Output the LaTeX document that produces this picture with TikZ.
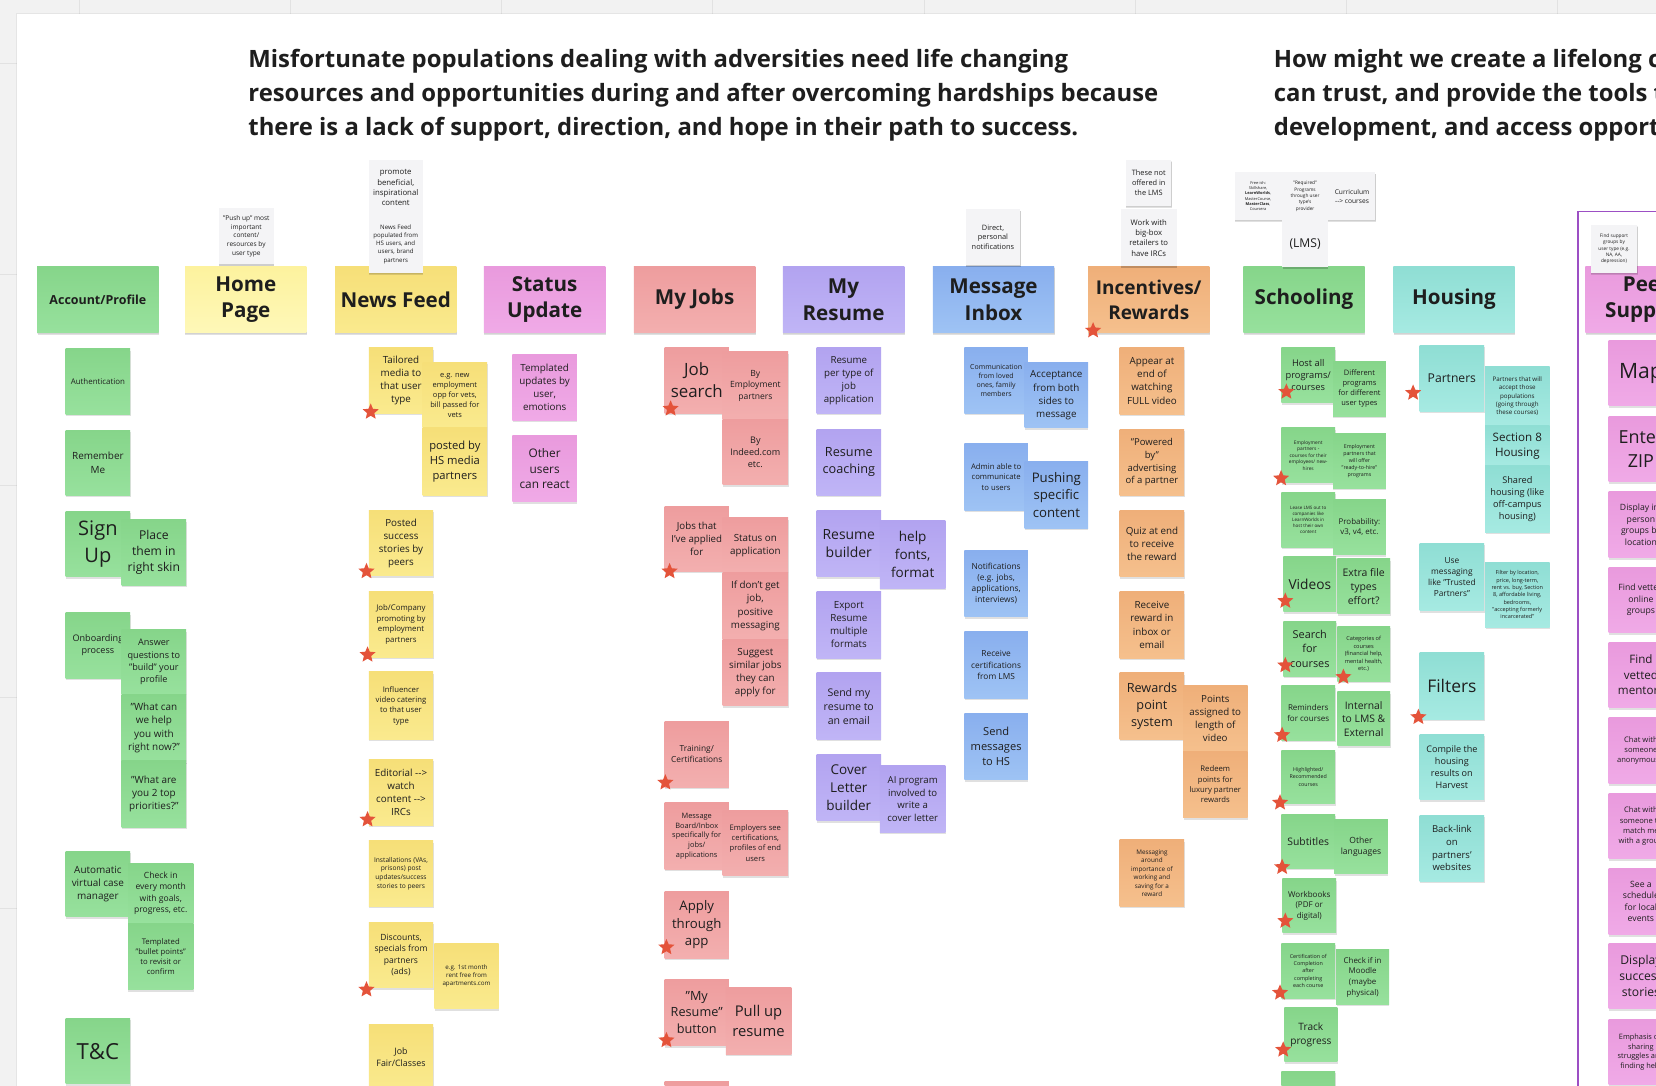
\documentclass[tikz,border=0pt]{standalone}
\usepackage{fontspec}
\setmainfont{Open Sans}
\usetikzlibrary{shapes.geometric,shadows}
\definecolor{ink}{HTML}{1E1E1E}
\definecolor{grnT}{HTML}{86D58A}\definecolor{grnB}{HTML}{97E19D}
\definecolor{yelT}{HTML}{F6DF78}\definecolor{yelB}{HTML}{FAEA8E}
\definecolor{hpyT}{HTML}{FDF29E}\definecolor{hpyB}{HTML}{FEF8B8}
\definecolor{pnkT}{HTML}{E99ADD}\definecolor{pnkB}{HTML}{F0AAE7}
\definecolor{salT}{HTML}{EE9D9E}\definecolor{salB}{HTML}{F3AFAF}
\definecolor{lavT}{HTML}{B2A3F0}\definecolor{lavB}{HTML}{C0B5F6}
\definecolor{bluT}{HTML}{89AFEE}\definecolor{bluB}{HTML}{9EC3F4}
\definecolor{orgT}{HTML}{EFAF79}\definecolor{orgB}{HTML}{F5C08D}
\definecolor{teaT}{HTML}{8FDED4}\definecolor{teaB}{HTML}{A6EAE2}
\definecolor{grayN}{HTML}{F4F4F6}
\definecolor{starc}{HTML}{E4533A}
\definecolor{bgc}{HTML}{F2F2F2}
\definecolor{gridc}{HTML}{E2E2E2}
\definecolor{purp}{HTML}{9C4FC4}
\tikzset{
  base/.style={draw=none, inner sep=1.5pt, align=center, anchor=north west, text=ink,
    font=\fontsize{8}{10.6}\selectfont,
    drop shadow={shadow xshift=0.4pt, shadow yshift=-1.8pt, opacity=0.12, fill=black}},
  nt/.style={base, top color=#1T, bottom color=#1B, minimum width=61pt, minimum height=62pt},
  sm/.style={base, top color=#1T, bottom color=#1B, minimum width=51pt, minimum height=52pt},
  gnote/.style={base, fill=grayN, minimum width=52pt, minimum height=53pt,
    drop shadow={shadow xshift=0.3pt, shadow yshift=-1.2pt, opacity=0.08, fill=black}},
  hdr/.style={base, top color=#1T, bottom color=#1B, minimum width=115pt, minimum height=63pt,
    font=\fontsize{19.5}{25}\selectfont\bfseries,
    drop shadow={shadow xshift=0.3pt, shadow yshift=-1pt, opacity=0.06, fill=black}},
  fs/.style={font=\fontsize{#1}{\fpeval{1.33*#1}}\selectfont},
  wh/.style 2 args={minimum width=#1pt, minimum height=#2pt},
  starr/.style={star, star points=5, star point ratio=2.2, fill=starc, draw=none,
    minimum size=16pt, inner sep=0pt},
  ttl/.style={anchor=base west, inner sep=0pt, text=ink, font=\fontsize{22.6}{28}\selectfont\bfseries},
}
\begin{document}
\begin{tikzpicture}[x=1pt,y=-1pt]
\useasboundingbox (0,0) rectangle (1568,1028);
\clip (0,0) rectangle (1568,1028);
% canvas
\fill[bgc] (0,0) rectangle (1568,1028);
\foreach \gx in {75,275,...,1475} \draw[gridc, line width=0.8pt] (\gx,0) -- (\gx,1028);
\foreach \gy in {60,260,...,1060} \draw[gridc, line width=0.8pt] (0,\gy) -- (1568,\gy);
\fill[black, opacity=0.05] (15,12) rectangle (1600,1060);
\fill[white] (16,13) rectangle (1600,1060);
% frame of peer support
\draw[purp, line width=1.3pt] (1494,1060) -- (1494,200) -- (1600,200);

% titles
\node[ttl] (t1) at (235,64) {Misfortunate populations dealing with adversities need life changing};
\node[ttl] (t2) at (235,96) {resources and opportunities during and after overcoming hardships because};
\node[ttl] (t3) at (235,128) {there is a lack of support, direction, and hope in their path to success.};
\node[ttl] (t4) at (1206,64) {How might we create a lifelong c};
\node[ttl] (t5) at (1206,96) {can trust, and provide the tools t};
\node[ttl] (t6) at (1206,128) {development, and access opport};

% headers
\node[hdr=grn, font=\fontsize{11.8}{15}\selectfont\bfseries] (hAcc) at (35,252) {Account/Profile};
\node[hdr=hpy] (hHome) at (175,252) {Home\\Page};
\node[hdr=yel] (hNews) at (317,252) {News Feed};
\node[hdr=pnk] (hStat) at (458,252) {Status\\Update};
\node[hdr=sal] (hJobs) at (600,252) {My Jobs};
\node[hdr=lav] (hRes) at (741,252) {My\\Resume};
\node[hdr=blu] (hMsg) at (883,252) {Message\\Inbox};
\node[hdr=org, font=\fontsize{18}{24}\selectfont\bfseries] (hInc) at (1030,252) {Incentives/\\Rewards};
\node[hdr=grn] (hSch) at (1177,252) {Schooling};
\node[hdr=tea] (hHou) at (1319,252) {Housing};
\node[hdr=pnk] (hPeer) at (1501,252) {Peer\\Support};

% gray notes above headers
\node[gnote, fs=6.2] (g1) at (207,197) {"Push up" most\\important\\content/\\resources by\\user type};
\node[gnote, wh={51}{53}, fs=7.4] (g2) at (349,151) {promote\\beneficial,\\inspirational\\content};
\node[gnote, wh={51}{54}, fs=5.8] (g3) at (349,204) {News Feed\\populated from\\HS users, and\\users, brand\\partners};
\node[gnote, wh={52}{53}, fs=7] (g4) at (914,198) {Direct,\\personal\\notifications};
\node[gnote, wh={43}{44}, fs=7] (g5) at (1066,151) {These not\\offered in\\the LMS};
\node[gnote, wh={53}{54}, fs=7.3] (g6) at (1061,198) {Work with\\big-box\\retailers to\\have IRCs};
\node[gnote, wh={44}{45}, fs=3.7] (g7) at (1169,163) {Free-ish:\\Skillshare,\\\textbf{LearnWorlds},\\MasterCourse,\\\textbf{MasterClass},\\Coursera};
\node[gnote, wh={45}{45}, fs=4.5] (g8) at (1213,163) {"Required"\\Programs\\through user\\type's\\provider};
\node[gnote, wh={44}{45}, fs=6.3] (g9) at (1258,163) {Curriculum\\-{}-> courses};
\node[gnote, wh={43}{45}, fs=11.5] (g10) at (1214,208) {(LMS)};
\node[gnote, wh={44}{45}, fs=4.5] (g11) at (1506,213) {Find support\\groups by\\user type (e.g.\\NA, AA,\\depression)};

% Account / Profile
\node[nt=grn, fs=7.5] (a1) at (62,330) {Authentication};
\node[nt=grn, fs=9.4] (a2) at (62,407) {Remember\\Me};
\node[nt=grn, fs=19] (a3) at (62,484) {Sign\\Up};
\node[nt=grn, fs=11.5] (a4) at (115,492) {Place\\them in\\right skin};
\node[nt=grn, fs=8.6] (a5) at (62,580) {Onboarding\\process};
\node[nt=grn, wh={61}{61}, fs=8.6] (a6) at (115,596) {Answer\\questions to\\"build" your\\profile};
\node[nt=grn, wh={61}{64}, fs=9.4] (a7) at (115,657) {"What can\\we help\\you with\\right now?"};
\node[nt=grn, wh={61}{63}, fs=9.4] (a8) at (115,720) {"What are\\you 2 top\\priorities?"};
\node[nt=grn, fs=9.4] (a9) at (62,806) {Automatic\\virtual case\\manager};
\node[nt=grn, wh={62}{57}, fs=8.1] (a10) at (121,817) {Check in\\every month\\with goals,\\progress, etc.};
\node[nt=grn, wh={62}{63}, fs=7.3] (a11) at (121,874) {Templated\\"bullet points"\\to revisit or\\confirm};
\node[nt=grn, fs=21] (a12) at (62,964) {T\&C};

% News Feed
\node[nt=yel, fs=9.3] (n1) at (349,329) {Tailored\\media to\\that user\\type};
\node[nt=yel, fs=7.1] (n2) at (400,343) {e.g. new\\employment\\opp for vets,\\bill passed for\\vets};
\node[nt=yel, wh={61}{64}, fs=10.6] (n3) at (400,405) {posted by\\HS media\\partners};
\node[nt=yel, fs=9.3] (n4) at (349,483) {Posted\\success\\stories by\\peers};
\node[nt=yel, fs=7.4] (n5) at (349,560) {Job/Company\\promoting by\\employment\\partners};
\node[nt=yel, wh={61}{64}, fs=7.3] (n6) at (349,636) {Influencer\\video catering\\to that user\\type};
\node[nt=yel, fs=9.3] (n7) at (349,719) {Editorial -{}->\\watch\\content -{}->\\IRCs};
\node[nt=yel, fs=6.3] (n8) at (349,796) {Installations (VAs,\\prisons) post\\updates/success\\stories to peers};
\node[nt=yel, fs=8.1] (n9) at (349,873) {Discounts,\\specials from\\partners\\(ads)};
\node[nt=yel, fs=5.9] (n10) at (411,893) {e.g. 1st month\\rent free from\\apartments.com};
\node[nt=yel, fs=8.4] (n11) at (349,970) {Job\\Fair/Classes};

% Status Update
\node[nt=pnk, wh={61}{63}, fs=9.3] (u1) at (485,335) {Templated\\updates by\\user,\\emotions};
\node[nt=pnk, wh={61}{63}, fs=11.2] (u2) at (485,412) {Other\\users\\can react};

% My Jobs
\node[nt=sal, fs=16] (j1) at (629,329) {Job\\search};
\node[nt=sal, wh={62}{64}, fs=8.1] (j2) at (684,333) {By\\Employment\\partners};
\node[nt=sal, wh={62}{62}, fs=8.6] (j3) at (684,397) {By\\Indeed.com\\etc.};
\node[nt=sal, fs=9.2] (j4) at (629,479) {Jobs that\\I've applied\\for};
\node[nt=sal, wh={62}{52}, fs=9.3] (j5) at (684,490) {Status on\\application};
\node[nt=sal, wh={62}{63}, fs=9.3] (j6) at (684,542) {If don't get\\job,\\positive\\messaging};
\node[nt=sal, wh={62}{63}, fs=9.3] (j7) at (684,605) {Suggest\\similar jobs\\they can\\apply for};
\node[nt=sal, fs=7.9] (j8) at (629,683) {Training/\\Certifications};
\node[nt=sal, wh={61}{63}, fs=7] (j9) at (629,760) {Message\\Board/Inbox\\specifically for\\jobs/\\applications};
\node[nt=sal, wh={62}{62}, fs=7.2] (j10) at (684,767) {Employers see\\certifications,\\profiles of end\\users};
\node[nt=sal, wh={61}{63}, fs=12.5] (j11) at (629,844) {Apply\\through\\app};
\node[nt=sal, wh={61}{63}, fs=12] (j12) at (629,927) {"My\\Resume"\\button};
\node[nt=sal, wh={62}{63}, fs=14] (j13) at (687,935) {Pull up\\resume};
\node[nt=sal] (j14) at (629,1024) {};

% My Resume
\node[nt=lav, fs=9.2] (r1) at (773,329) {Resume\\per type of\\job\\application};
\node[nt=lav, wh={61}{63}, fs=12] (r2) at (773,406) {Resume\\coaching};
\node[nt=lav, wh={61}{63}, fs=13.2] (r3) at (773,483) {Resume\\builder};
\node[nt=lav, wh={62}{64}, fs=12.8] (r4) at (833,493) {help\\fonts,\\format};
\node[nt=lav, wh={61}{63}, fs=9.3] (r5) at (773,560) {Export\\Resume\\multiple\\formats};
\node[nt=lav, wh={61}{63}, fs=10] (r6) at (773,637) {Send my\\resume to\\an email};
\node[nt=lav, wh={61}{63}, fs=12.8] (r7) at (773,714) {Cover\\Letter\\builder};
\node[nt=lav, wh={62}{63}, fs=9.1] (r8) at (833,725) {AI program\\involved to\\write a\\cover letter};

% Message Inbox
\node[nt=blu, wh={60}{62}, fs=6.6] (m1) at (913,329) {Communication\\from loved\\ones, family\\members};
\node[nt=blu, wh={60}{62}, fs=9.3] (m2) at (970,343) {Acceptance\\from both\\sides to\\message};
\node[nt=blu, wh={60}{63}, fs=7.3] (m3) at (913,420) {Admin able to\\communicate\\to users};
\node[nt=blu, wh={60}{63}, fs=12.5] (m4) at (970,437) {Pushing\\specific\\content};
\node[nt=blu, wh={60}{63}, fs=7.9] (m5) at (913,521) {Notifications\\(e.g. jobs,\\applications,\\interviews)};
\node[nt=blu, wh={60}{63}, fs=7.9] (m6) at (913,598) {Receive\\certifications\\from LMS};
\node[nt=blu, wh={60}{63}, fs=10.5] (m7) at (913,675) {Send\\messages\\to HS};

% Incentives / Rewards
\node[nt=org, wh={61}{63}, fs=9.3] (i1) at (1060,329) {Appear at\\end of\\watching\\FULL video};
\node[nt=org, wh={61}{63}, fs=9] (i2) at (1060,406) {"Powered\\by"\\advertising\\of a partner};
\node[nt=org, wh={61}{63}, fs=9.3] (i3) at (1060,483) {Quiz at end\\to receive\\the reward};
\node[nt=org, wh={61}{63}, fs=9.3] (i4) at (1060,560) {Receive\\reward in\\inbox or\\email};
\node[nt=org, wh={61}{63}, fs=12] (i5) at (1060,637) {Rewards\\point\\system};
\node[nt=org, wh={61}{62}, fs=9.2] (i6) at (1120,649) {Points\\assigned to\\length of\\video};
\node[nt=org, wh={61}{63}, fs=7.3] (i7) at (1120,711) {Redeem\\points for\\luxury partner\\rewards};
\node[nt=org, wh={61}{63}, fs=6] (i8) at (1060,795) {Messaging\\around\\importance of\\working and\\saving for a\\reward};

% Schooling
\node[sm=grn, fs=8.8] (s1) at (1213,329) {Host all\\programs/\\courses};
\node[sm=grn, wh={50}{52}, fs=7.1] (s2) at (1262,342) {Different\\programs\\for different\\user types};
\node[sm=grn, fs=4.6] (s3) at (1213,405) {Employment\\partners -\\courses for their\\employees/ new-\\hires};
\node[sm=grn, wh={50}{52}, fs=5] (s4) at (1262,410) {Employment\\partners that\\will offer\\"ready-to-hire"\\programs};
\node[sm=grn, fs=4.3] (s5) at (1213,466) {Lease LMS out to\\companies like\\LearnWorlds in\\host their own\\content};
\node[sm=grn, wh={50}{52}, fs=7.5] (s6) at (1262,473) {Probability:\\v3, v4, etc.};
\node[sm=grn, wh={50}{52}, fs=13] (s7) at (1215,527) {Videos};
\node[sm=grn, wh={50}{52}, fs=9.9] (s8) at (1266,529) {Extra file\\types\\effort?};
\node[sm=grn, wh={50}{52}, fs=10.3] (s9) at (1215,588) {Search\\for\\courses};
\node[sm=grn, wh={50}{52}, fs=5.3] (s10) at (1266,593) {Categories of\\courses\\(financial help,\\mental health,\\etc.)};
\node[sm=grn, fs=7.6] (s11) at (1213,649) {Reminders\\for courses};
\node[sm=grn, wh={50}{51}, fs=9.8] (s12) at (1266,655) {Internal\\to LMS \&\\External};
\node[sm=grn, wh={51}{51}, fs=5] (s13) at (1213,710) {Highlighted/\\Recommended\\courses};
\node[sm=grn, wh={51}{51}, fs=9.8] (s14) at (1213,771) {Subtitles};
\node[sm=grn, wh={51}{51}, fs=8.1] (s15) at (1263,776) {Other\\languages};
\node[sm=grn, wh={51}{51}, fs=7.6] (s16) at (1214,832) {Workbooks\\(PDF or\\digital)};
\node[sm=grn, fs=5.1] (s17) at (1213,893) {Certification of\\Completion\\after\\completing\\each course};
\node[sm=grn, wh={50}{52}, fs=7.5] (s18) at (1265,899) {Check if in\\Moodle\\(maybe\\physical)};
\node[sm=grn, wh={50}{51}, fs=9.6] (s19) at (1216,954) {Track\\progress};
\node[sm=grn] (s20) at (1213,1014) {};

% Housing
\node[nt=tea, fs=11.5] (o1) at (1344,327) {Partners};
\node[nt=tea, wh={61}{56}, fs=5.9] (o2) at (1406,347) {Partners that will\\accept those\\populations\\(going through\\these courses)};
\node[nt=tea, wh={61}{38}, fs=11] (o3) at (1406,403) {Section 8\\Housing};
\node[nt=tea, wh={61}{63}, fs=8.7] (o4) at (1406,441) {Shared\\housing (like\\off-campus\\housing)};
\node[nt=tea, wh={61}{64}, fs=7.9] (o5) at (1344,514) {Use\\messaging\\like "Trusted\\Partners"};
\node[nt=tea, wh={61}{62}, fs=5.2] (o6) at (1406,532) {Filter by location,\\price, long-term,\\rent vs. buy, Section\\8, affordable living,\\bedrooms,\\"accepting formerly\\incarcerated"};
\node[nt=tea, wh={61}{63}, fs=16.5] (o7) at (1344,618) {Filters};
\node[nt=tea, fs=8.6] (o8) at (1344,695) {Compile the\\housing\\results on\\Harvest};
\node[nt=tea, fs=9] (o9) at (1344,772) {Back-link\\on\\partners'\\websites};

% Peer Support
\node[nt=pnk, fs=20] (p1) at (1523,322) {Map};
\node[nt=pnk, fs=17] (p2) at (1523,394) {Enter\\ZIP};
\node[nt=pnk, wh={61}{63}, fs=8.2] (p3) at (1523,465) {Display in-\\person\\groups by\\location};
\node[nt=pnk, fs=8.2] (p4) at (1523,537) {Find vetted\\online\\groups};
\node[nt=pnk, fs=11] (p5) at (1523,608) {Find\\vetted\\mentors};
\node[nt=pnk, wh={61}{63}, fs=7.2] (p6) at (1523,679) {Chat with\\someone\\anonymously};
\node[nt=pnk, fs=7.2] (p7) at (1523,751) {Chat with\\someone to\\match me\\with a group};
\node[nt=pnk, wh={61}{63}, fs=8.2] (p8) at (1523,822) {See a\\schedule\\for local\\events};
\node[nt=pnk, fs=11.5] (p9) at (1523,893) {Display\\success\\stories};
\node[nt=pnk, fs=7] (p10) at (1523,965) {Emphasis on\\sharing\\struggles and\\finding help};

% stars
\foreach \sx/\sy [count=\k] in {351/390,347/541,348/620,348/776,347/937,
  635/387,634/541,630/741,631/897,631/985,1035/313,
  1218/371,1213/453,1217/569,1217/630,1272/641,1214/696,1212/760,1214/821,1217/872,1212/940,1215/994,
  1338/372,1343/679}
  \node[starr] (star\k) at (\sx,\sy) {};
\end{tikzpicture}
\end{document}
